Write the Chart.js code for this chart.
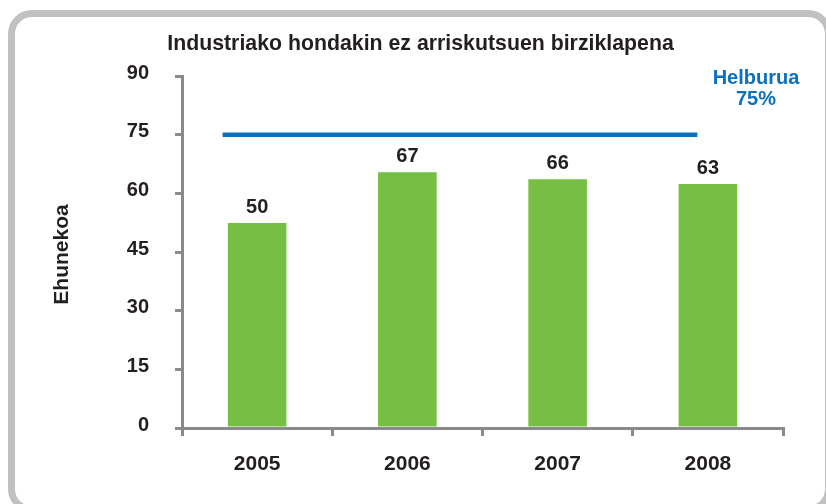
<!DOCTYPE html>
<html>
<head>
<meta charset="utf-8">
<script src="https://cdn.jsdelivr.net/npm/chart.js@4/dist/chart.umd.min.js"></script>
<style>
  html, body { margin: 0; padding: 0; background: #ffffff; overflow: hidden; }
  #wrap { position: relative; width: 826px; height: 504px; overflow: hidden; }
  #frame { position: absolute; left: 8px; top: 10px; width: 810px; height: 489px;
           border: 7px solid #c0c1c3; border-radius: 24px; pointer-events: none; }
  canvas { position: absolute; left: 0; top: 0; }
</style>
</head>
<body>
<div id="wrap">
  <canvas id="c" width="826" height="504"></canvas>
  <div id="frame"></div>
</div>
<script>
// ---- data ----
const categories = ['2005', '2006', '2007', '2008'];
const barValues = [52.4, 65.4, 63.6, 62.4];        // bar heights as drawn
const valueLabels = ['50', '67', '66', '63'];       // printed labels
const yTicks = [0, 15, 30, 45, 60, 75, 90];
const targetValue = 75;
const targetSpan = [-0.23, 2.93];                   // category-index span of target line
const chartTitle = 'Industriako hondakin ez arriskutsuen birziklapena';
const yTitle = 'Ehunekoa';
const targetText = ['Helburua', '75%'];

const FONT = '"Liberation Sans", Arial, sans-serif';
const TEXT = '#231f20';
const GREEN = '#77bf44';
const BLUE = '#0a70c0';
const AXIS = '#8a8a8a';

const textPlugin = {
  id: 'texts',
  afterDatasetsDraw(chart) {
    const ctx = chart.ctx;
    ctx.save();
    ctx.fillStyle = TEXT;
    ctx.font = 'bold 21.3px ' + FONT;
    ctx.textAlign = 'center';
    ctx.textBaseline = 'alphabetic';
    ctx.fillText(chartTitle, 420.5, 50);

    // y axis title
    ctx.save();
    ctx.translate(68, 254.5);
    ctx.rotate(-Math.PI / 2);
    ctx.font = 'bold 21px ' + FONT;
    ctx.fillText(yTitle, 0, 0);
    ctx.restore();

    // value labels
    const meta = chart.getDatasetMeta(0);
    ctx.font = 'bold 20px ' + FONT;
    meta.data.forEach((bar, i) => {
      ctx.fillText(valueLabels[i], bar.x, bar.y - 10);
    });

    // target text
    ctx.fillStyle = BLUE;
    ctx.font = 'bold 20px ' + FONT;
    ctx.fillText(targetText[0], 756, 83.5);
    ctx.fillText(targetText[1], 756, 104.5);
    ctx.restore();
  }
};

new Chart(document.getElementById('c'), {
  type: 'bar',
  data: {
    labels: categories,
    datasets: [
      {
        type: 'bar',
        data: barValues,
        backgroundColor: GREEN,
        borderWidth: 0,
        barPercentage: 0.39,
        categoryPercentage: 1,
        grouped: false,
        xAxisID: 'x',
        yAxisID: 'y',
        order: 2
      },
      {
        type: 'line',
        data: targetSpan.map(v => ({ x: v, y: targetValue })),
        borderColor: BLUE,
        borderWidth: 4.5,
        pointRadius: 0,
        fill: false,
        xAxisID: 'x2',
        yAxisID: 'y',
        order: 1
      }
    ]
  },
  options: {
    responsive: false,
    animation: false,
    events: [],
    layout: { padding: { left: 0, right: 43, top: 76, bottom: 0 } },
    plugins: { legend: { display: false }, title: { display: false }, tooltip: { enabled: false } },
    scales: {
      x: {
        type: 'category',
        offset: true,
        afterFit(s) { s.height = 76; },
        grid: { offset: true, drawOnChartArea: false, drawTicks: true, tickLength: 8, color: AXIS, lineWidth: 3 },
        border: { display: true, color: AXIS, width: 3 },
        ticks: { color: TEXT, font: { family: FONT, size: 21, weight: 'bold' }, padding: 16 }
      },
      x2: {
        type: 'linear',
        display: false,
        offset: false,
        min: -0.5,
        max: categories.length - 0.5
      },
      y: {
        min: 0,
        max: 90,
        afterFit(s) { s.width = 182; },
        afterBuildTicks(s) { s.ticks = yTicks.map(v => ({ value: v })); },
        grid: { drawOnChartArea: false, drawTicks: true, tickLength: 7, color: AXIS, lineWidth: 3 },
        border: { display: true, color: AXIS, width: 3 },
        ticks: { color: TEXT, font: { family: FONT, size: 20, weight: 'bold' }, padding: 26, labelOffset: -3 }
      }
    }
  },
  plugins: [textPlugin]
});
</script>
</body>
</html>
